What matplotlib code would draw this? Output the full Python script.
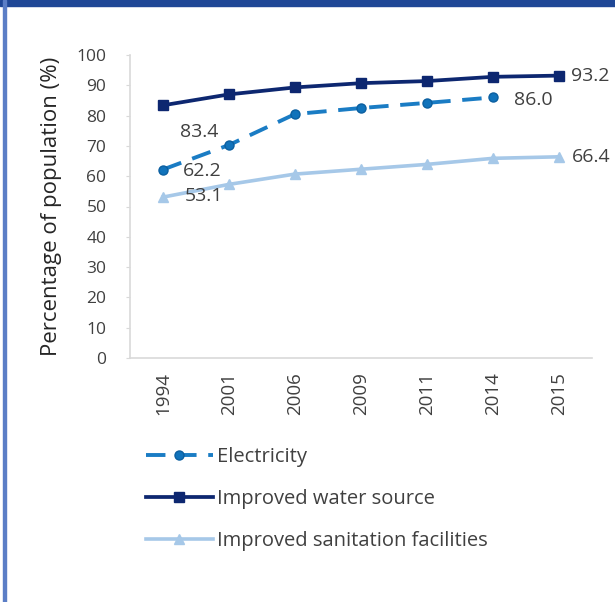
import matplotlib
matplotlib.use('Agg')
import matplotlib.pyplot as plt
import matplotlib.patches as mpatches
import numpy as np

plt.rcParams['font.family'] = ['Open Sans', 'DejaVu Sans']

years = ['1994', '2001', '2006', '2009', '2011', '2014', '2015']
electricity = [62.2, 70.3, 80.5, 82.5, 84.2, 86.0]     # no 2015 value
water = [83.4, 87.0, 89.3, 90.7, 91.4, 92.8, 93.2]
sanitation = [53.1, 57.3, 60.7, 62.3, 63.9, 65.9, 66.4]

c_elec = '#1a7cc4'
c_water = '#0d2770'
c_san = '#a6c8e8'
txt = '#404040'

fig = plt.figure(figsize=(6.15, 6.02), dpi=100)
ax = fig.add_axes([130/615, 1-358/602, 462/615, 303/602])

x = np.arange(len(years))

ax.plot(x[:len(electricity)], electricity, color=c_elec, lw=2.8, dashes=(5, 3),
        marker='o', ms=6.5, mfc='#1173bb', mec='#0b5fa0', label='Electricity')
ax.plot(x, water, color=c_water, lw=2.7, marker='s', ms=7.5,
        label='Improved water source')
ax.plot(x, sanitation, color=c_san, lw=2.6, marker='^', ms=7.5,
        label='Improved sanitation facilities')

ax.set_xlim(-0.5, len(years) - 0.5)
ax.set_ylim(0, 100)
ax.set_yticks(np.arange(0, 101, 10))
ax.set_xticks(x)
ax.set_xticklabels(years, rotation=90, fontsize=13.5, color=txt)
ax.tick_params(axis='y', labelsize=12.5, labelcolor=txt, color='#d9d9d9',
               length=3, pad=14)
ax.tick_params(axis='x', length=0, pad=10)
for s in ['top', 'right']:
    ax.spines[s].set_visible(False)
for s in ['left', 'bottom']:
    ax.spines[s].set_color('#d9d9d9')
    ax.spines[s].set_linewidth(1.2)
ax.set_ylabel('Percentage of population (%)', fontsize=16, color='#262626',
              labelpad=10)

# data labels
def lab(i, v, dx, dy):
    ax.annotate('%.1f' % v, (x[i], v), xytext=(dx, dy), textcoords='offset points',
                ha='left', va='center', fontsize=14, color=txt)

lab(0, water[0], 12, -19)
lab(0, electricity[0], 14, -1)
lab(0, sanitation[0], 16, 1)
lab(6, water[6], 9, 0)
lab(5, electricity[5], 15, -2)
lab(6, sanitation[6], 9, 0)

fig.legend(loc='upper left', bbox_to_anchor=(138/615, 1-439/602), frameon=False,
           fontsize=14.5, labelcolor=txt, handlelength=3.3, handletextpad=0.2,
           labelspacing=1.1, borderaxespad=0)

# frame of the panel
fig.patches.append(mpatches.Rectangle((0, 1-6/602), 1, 6/602, transform=fig.transFigure,
                                      color='#1f4796', zorder=0))
fig.patches.append(mpatches.Rectangle((3/615, 0), 2.5/615, 1, transform=fig.transFigure,
                                      color='#5b7ec6', zorder=0))

fig.savefig('out.png', dpi=100)
